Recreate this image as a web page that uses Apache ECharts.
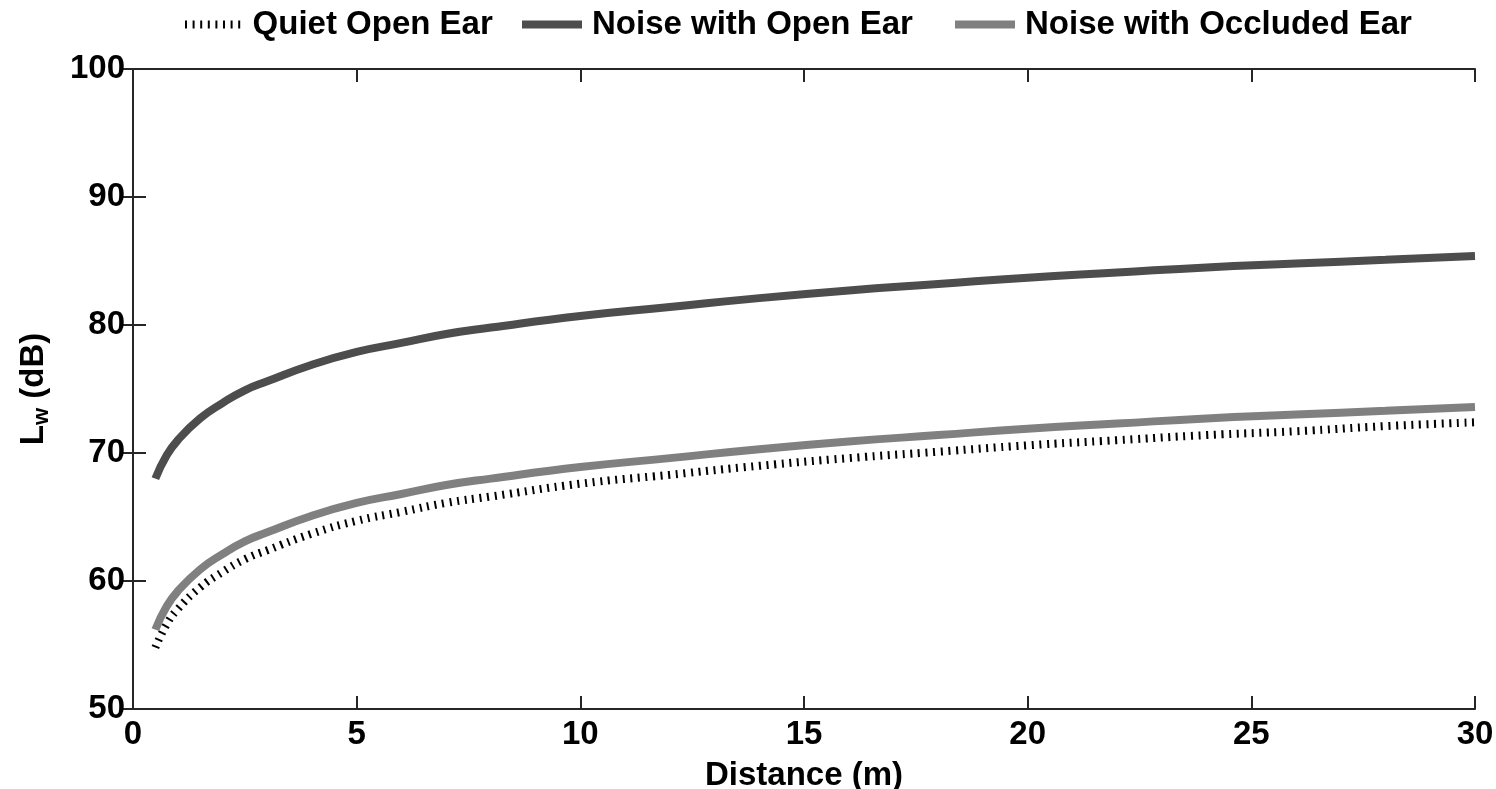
<!DOCTYPE html>
<html>
<head>
<meta charset="utf-8">
<script src="https://cdn.jsdelivr.net/npm/echarts@6/dist/echarts.min.js"></script>
<style>
    html, body {margin: 0; padding: 0; background: #fff;}
    #chart {width: 1496px; height: 789px;}
</style>
</head>
<body>
<div id="chart"></div>
<script>
// 距离 (m)
var distance = [0.5, 0.75, 1, 1.5, 2, 2.5, 3, 4, 5, 6, 7, 8, 10, 12, 14, 16, 18, 20, 22, 24, 26, 28, 30];
// 安静环境, 开放耳
var quiet_open = [54.8, 56.6, 57.8, 59.5, 60.7, 61.7, 62.4, 63.7, 64.7, 65.4, 66.1, 66.6, 67.6, 68.3, 69.0, 69.6, 70.1, 70.6, 71.0, 71.4, 71.7, 72.1, 72.4];
// 噪声环境, 开放耳
var noise_open = [68.0, 69.8, 71.0, 72.7, 73.9, 74.9, 75.6, 76.9, 77.9, 78.6, 79.3, 79.8, 80.7, 81.4, 82.1, 82.7, 83.2, 83.7, 84.1, 84.5, 84.8, 85.1, 85.4];
// 噪声环境, 封闭耳
var noise_occluded = [56.2, 58.0, 59.2, 60.9, 62.1, 63.1, 63.8, 65.1, 66.1, 66.8, 67.5, 68.0, 68.9, 69.6, 70.3, 70.9, 71.4, 71.9, 72.3, 72.7, 73.0, 73.3, 73.6];

var legend_names = ['Quiet Open Ear', 'Noise with Open Ear', 'Noise with Occluded Ear'];

var FONT = '"Liberation Sans", Arial, sans-serif';

function toPairs(xs, ys) {
    var arr = [];
    for (var i = 0; i < xs.length; i++) {
        arr.push([xs[i], ys[i]]);
    }
    return arr;
}

// 图例里的虚线图标 (竖条)
function dottedIconPath() {
    var p = 'path://';
    for (var i = 0; i < 8; i++) {
        var x = i * 7.6;
        p += 'M' + x + ',0h2v8h-2z';
    }
    return p;
}

// 单个图例, 方便逐个定位
function makeLegend(name, left, icon) {
    return {
        top: 3,
        left: left,
        data: [{name: name, icon: icon}],
        itemWidth: 60,
        itemHeight: 8,
        textStyle: {color: '#000', fontFamily: FONT, fontWeight: 'bold', fontSize: 33, padding: [0, 0, 0, 5]}
    };
}

var axisLineStyle = {color: '#262626', width: 2};

var chart = echarts.init(document.getElementById('chart'));
var option = {
    animation: false,
    backgroundColor: '#fff',
    grid: {left: 133, right: 21, top: 69, bottom: 80, outerBoundsMode: 'none'},
    legend: [
        makeLegend(legend_names[0], 180, dottedIconPath()),
        makeLegend(legend_names[1], 517, 'rect'),
        makeLegend(legend_names[2], 950, 'rect')
    ],
    xAxis: [
        {
            type: 'value', min: 0, max: 30, interval: 5,
            name: 'Distance (m)', nameLocation: 'middle', nameGap: 50,
            nameTextStyle: {color: '#000', fontFamily: FONT, fontWeight: 'bold', fontSize: 33},
            axisLine: {show: true, lineStyle: axisLineStyle},
            axisTick: {show: true, inside: true, length: 13, lineStyle: axisLineStyle},
            axisLabel: {margin: 9, fontFamily: FONT, fontWeight: 'bold', fontSize: 33, color: '#000'},
            splitLine: {show: false}
        },
        {
            type: 'value', min: 0, max: 30, interval: 5, position: 'top',
            axisLine: {show: true, lineStyle: axisLineStyle},
            axisTick: {show: true, inside: true, length: 13, lineStyle: axisLineStyle},
            axisLabel: {show: false},
            splitLine: {show: false}
        }
    ],
    yAxis: [
        {
            type: 'value', min: 50, max: 100, interval: 10,
            name: '{l|L}{s|w}{l| (dB)}', nameLocation: 'middle', nameGap: 80, nameRotate: 90,
            nameTextStyle: {
                rich: {
                    l: {fontFamily: FONT, fontWeight: 'bold', fontSize: 33, color: '#000'},
                    s: {fontFamily: FONT, fontWeight: 'bold', fontSize: 22, color: '#000', verticalAlign: 'bottom', padding: [16, 0, 0, 0]}
                }
            },
            axisLine: {show: true, lineStyle: axisLineStyle},
            axisTick: {show: true, inside: true, length: 13, lineStyle: axisLineStyle},
            axisLabel: {margin: 8, fontFamily: FONT, fontWeight: 'bold', fontSize: 33, color: '#000'},
            splitLine: {show: false}
        },
        {
            type: 'value', min: 50, max: 100, interval: 10, position: 'right',
            axisLine: {show: true, lineStyle: axisLineStyle},
            axisTick: {show: true, inside: true, length: 13, lineStyle: axisLineStyle},
            axisLabel: {show: false},
            splitLine: {show: false}
        }
    ],
    series: [
        {
            name: legend_names[0], type: 'line', smooth: true, symbol: 'none',
            data: toPairs(distance, quiet_open),
            lineStyle: {color: '#000', width: 8, type: [2, 5.6], cap: 'butt'},
            itemStyle: {color: '#000'}, z: 2
        },
        {
            name: legend_names[1], type: 'line', smooth: true, symbol: 'none',
            data: toPairs(distance, noise_open),
            lineStyle: {color: '#4d4d4d', width: 8},
            itemStyle: {color: '#4d4d4d'}, z: 3
        },
        {
            name: legend_names[2], type: 'line', smooth: true, symbol: 'none',
            data: toPairs(distance, noise_occluded),
            lineStyle: {color: '#808080', width: 8},
            itemStyle: {color: '#808080'}, z: 3
        }
    ]
};
chart.setOption(option);
</script>
</body>
</html>
